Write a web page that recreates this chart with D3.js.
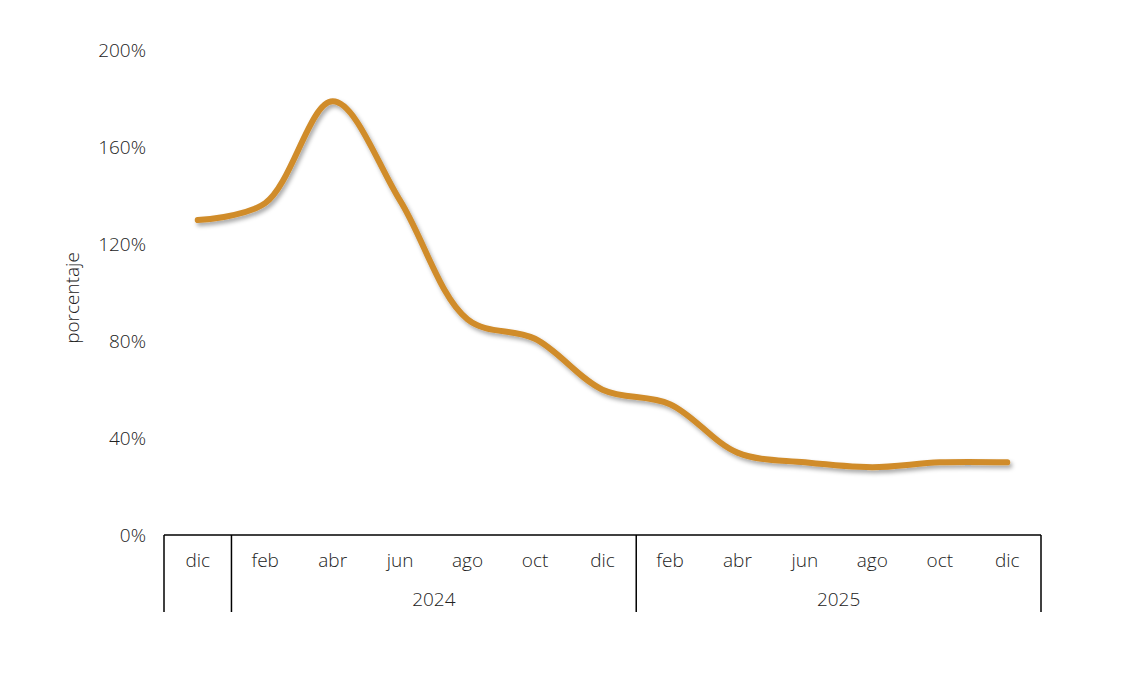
<!DOCTYPE html>
<html><head><meta charset="utf-8">
<script src="https://cdn.jsdelivr.net/npm/d3@7"></script>
<style>body{margin:0;background:#fff;} svg{display:block;} text{font-family:"Open Sans",Lato,sans-serif;font-weight:300;fill:#222;}</style>
</head><body>
<svg id="c" width="1134" height="680"></svg>
<script>
const months = ["dic","feb","abr","jun","ago","oct","dic","feb","abr","jun","ago","oct","dic"];
const values = [130, 137, 179, 138, 89, 81, 60, 54, 34, 30, 28, 30, 30];
const yearGroups = [
  {label:"", start:0, end:0},
  {label:"2024", start:1, end:6},
  {label:"2025", start:7, end:12}
];
const yTicks = [0, 40, 80, 120, 160, 200];

(function(){
const svg = d3.select("#c");
const mLeft = 164, mRight = 1041, mTop = 50.5, mBottom = 535;
const x = d3.scaleBand().domain(d3.range(months.length)).range([mLeft, mRight]).padding(0);
const y = d3.scaleLinear().domain([0, 200]).range([mBottom, mTop]);

const defs = svg.append("defs");
const f = defs.append("filter").attr("id","sh").attr("x","-10%").attr("y","-10%").attr("width","120%").attr("height","130%");
f.append("feDropShadow").attr("dx",2).attr("dy",3).attr("stdDeviation",2).attr("flood-color","#000").attr("flood-opacity",0.35);

svg.append("g").selectAll("text").data(yTicks).join("text")
  .attr("x", 146).attr("y", d => y(d)).attr("dy","0.35em")
  .attr("text-anchor","end").style("font-size","19px")
  .text(d => d + "%");

svg.append("text").attr("transform","translate(79,298) rotate(-90)")
  .attr("text-anchor","middle").style("font-size","19px").text("porcentaje");

svg.append("line").attr("x1",mLeft).attr("x2",mRight).attr("y1",mBottom).attr("y2",mBottom)
  .attr("stroke","#000").attr("stroke-width",1.5);
const seps = [0, 1, 7, 13];
svg.append("g").selectAll("line").data(seps).join("line")
  .attr("x1", d => d < months.length ? x(d) : mRight).attr("x2", d => d < months.length ? x(d) : mRight)
  .attr("y1", mBottom).attr("y2", 612).attr("stroke","#000").attr("stroke-width",1.5);

svg.append("g").selectAll("text").data(months).join("text")
  .attr("x", (d,i) => x(i) + x.bandwidth()/2).attr("y", 560).attr("dy","0.35em")
  .attr("text-anchor","middle").style("font-size","19px").text(d => d);

svg.append("g").selectAll("text").data(yearGroups.filter(g => g.label)).join("text")
  .attr("x", g => (x(g.start) + x(g.end) + x.bandwidth())/2).attr("y", 599).attr("dy","0.35em")
  .attr("text-anchor","middle").style("font-size","19px").text(g => g.label);

const line = d3.line().x((d,i) => x(i) + x.bandwidth()/2).y(d => y(d)).curve(d3.curveCatmullRom.alpha(0.5));
svg.append("path").datum(values).attr("d", line).attr("fill","none")
  .attr("stroke","#D08C2B").attr("stroke-width",6).attr("stroke-linecap","round")
  .attr("filter","url(#sh)");
})();
</script>
</body></html>
